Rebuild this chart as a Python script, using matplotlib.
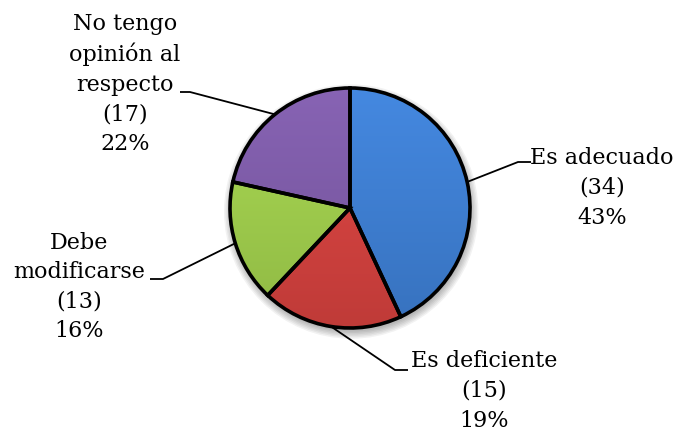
import numpy as np
import matplotlib
matplotlib.use('Agg')
import matplotlib.pyplot as plt
from matplotlib.colors import to_rgb

labels = ["Es adecuado", "Es deficiente", "Debe\nmodificarse", "No tengo\nopinión al\nrespecto"]
counts = [34, 15, 13, 17]
pcts = [43, 19, 16, 22]
colors = ["#3c7ccf", "#d0403d", "#9cc94a", "#7b59a5"]

# pixel layout helpers (figure is 676x434, pie centre ~ (350,208), radius ~120 px)
CX, CY, R = 350, 208, 120
W, H = 676, 434


def px(x, y):
    return (x - CX) / R, (CY - y) / R


# text block centre, elbow and end of leader, in pixels
text_pos = [(602, 188), (484, 391), (79, 287), (125, 84)]
elbows = [((518, 162), (531, 162)), ((395, 370), (408, 370)),
          ((163, 279), (150, 279)), ((190, 92), (180, 92))]

fig = plt.figure(figsize=(W / 100, H / 100), dpi=100)
ax = fig.add_axes([0, 0, 1, 1])

# soft shadow
for k in range(6):
    sh = plt.Circle((0.01, -0.03), 1.0 + 0.012 * k, color="k", alpha=0.05, zorder=0, lw=0)
    ax.add_patch(sh)

wedges, _ = ax.pie(counts, colors=colors, startangle=90, counterclock=False,
                   wedgeprops=dict(linewidth=0))

for w, c in zip(wedges, colors):
    base = np.array(to_rgb(c))
    t = np.linspace(0, 1, 200)[:, None]
    top = np.clip(base * 1.06 + 0.02, 0, 1)
    bot = base * 0.92
    img = top * t + bot * (1 - t)
    img = np.repeat(img[:, None, :], 2, axis=1)
    im = ax.imshow(img, extent=[-1, 1, -1, 1], origin="lower", zorder=2,
                   interpolation="bilinear")
    im.set_clip_path(w)

ax.pie(counts, colors=["none"] * 4, startangle=90, counterclock=False,
       wedgeprops=dict(linewidth=2.6, edgecolor="black", zorder=3))

for w, lab, n, p, tp, (el, end) in zip(wedges, labels, counts, pcts, text_pos, elbows):
    mid = np.deg2rad((w.theta1 + w.theta2) / 2)
    ex, ey = np.cos(mid), np.sin(mid)
    bx, by = px(*el)
    fx, fy = px(*end)
    ax.plot([ex, bx, fx], [ey, by, fy], color="black", lw=1.3, zorder=4,
            solid_capstyle="butt")
    tx, ty = px(*tp)
    ax.text(tx, ty, f"{lab}\n({n})\n{p}%", ha="center", va="center",
            multialignment="center", fontsize=16, family="DejaVu Serif",
            linespacing=1.45)

ax.set_xlim(-CX / R, (W - CX) / R)
ax.set_ylim(-(H - CY) / R, CY / R)
ax.set_aspect("auto")
ax.axis("off")

fig.savefig("out.png", dpi=100)
